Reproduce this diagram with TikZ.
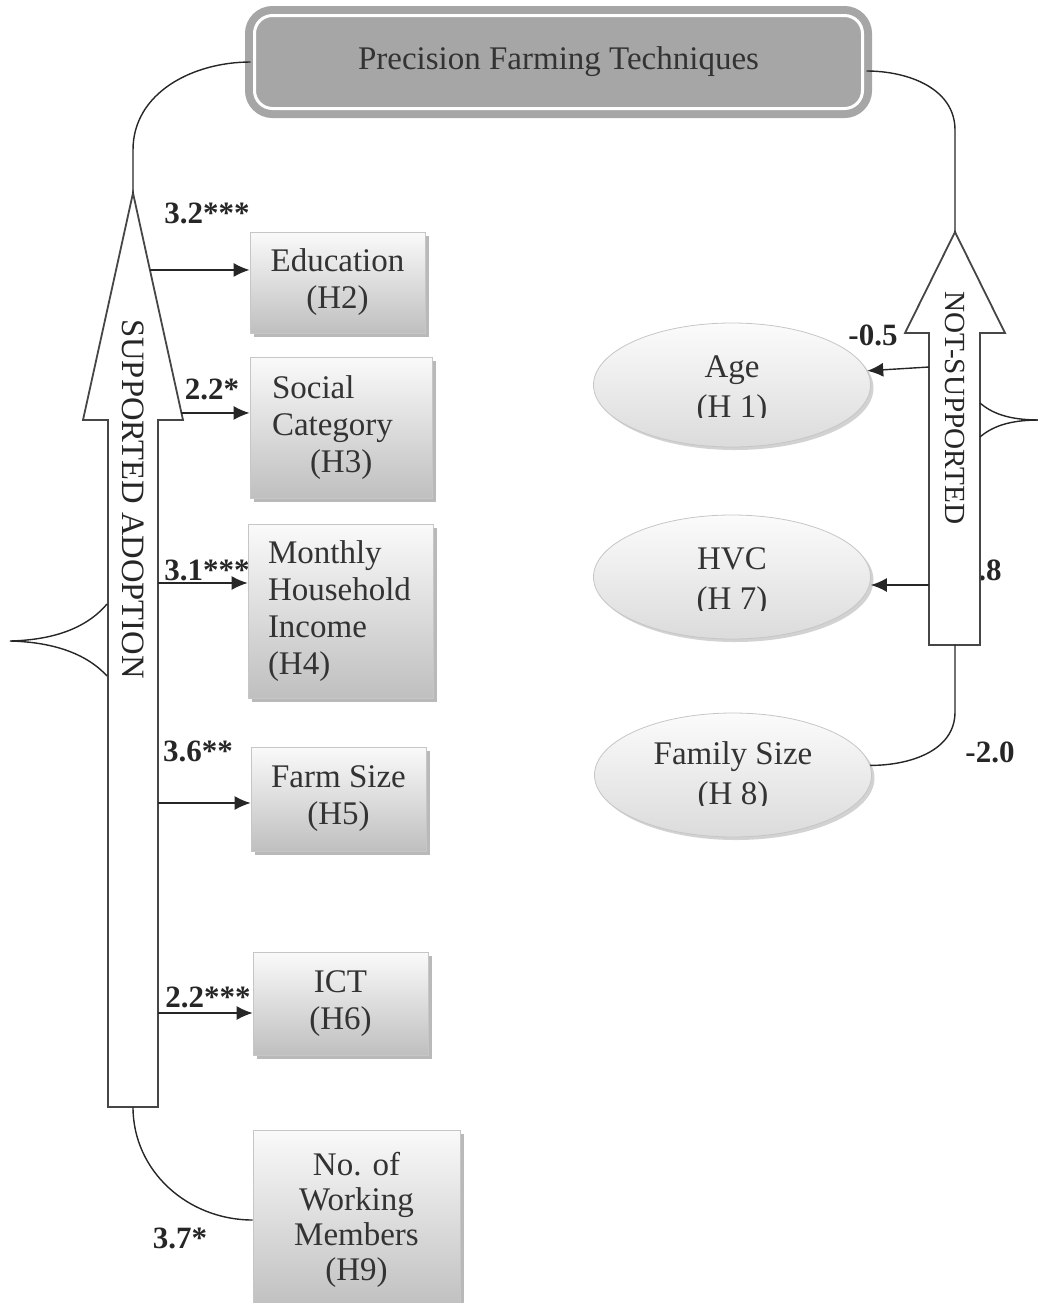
\documentclass[tikz,border=0pt]{standalone}
\usepackage{fontspec}
\setmainfont{Liberation Serif}
\usetikzlibrary{arrows.meta,shapes.geometric,shadows,calc}

\definecolor{pftgray}{RGB}{166,166,166}
\definecolor{linegray}{RGB}{70,70,70}

\tikzset{
  factor/.style={draw=gray!45, top color=gray!4, bottom color=gray!50,
    drop shadow={shadow xshift=2pt,shadow yshift=-2pt,fill=gray!55,opacity=1},
    inner sep=0pt, align=center, text=black!80, font=\fontsize{16.5}{18.5}\selectfont},
  hypo/.style={ellipse, draw=gray!45, top color=gray!3, bottom color=gray!28,
    drop shadow={shadow xshift=1.5pt,shadow yshift=-1.5pt,fill=gray!35,opacity=1},
    minimum width=138.5pt, minimum height=62pt, inner sep=0pt},
  hypotext/.style={align=center, text=black!80, font=\fontsize{16.5}{20}\selectfont},
  coef/.style={font=\bfseries\fontsize{15.5}{17}\selectfont, text=black!85},
  link/.style={-{Latex[length=8pt,width=7pt]}, line width=0.7pt, draw=black!85},
  curveline/.style={line width=0.7pt, draw=black!85},
  bigarrow/.style={draw=linegray, line width=0.9pt, fill=white}
}

\begin{document}
\begin{tikzpicture}[x=0.5pt,y=-0.5pt]
\useasboundingbox (0,0) rectangle (1038,1303);
\clip (0,0) rectangle (1038,1303);

% coefficients (drawn first, boxes overlap them)
\node[coef] (c2) at (207,213) {3.2***};
\node[coef] (c3) at (212,389) {2.2*};
\node[coef] (c4) at (207,570) {3.1***};
\node[coef] (c5) at (198,751) {3.6**};
\node[coef] (c6) at (208,997) {2.2***};
\node[coef] (c9) at (180,1238) {3.7*};
\node[coef] (c1) at (873,335) {-0.5};
\node[coef] (c7) at (990,570) {.8};
\node[coef] (c8) at (990,752) {-2.0};

% top box
\node[draw=pftgray, line width=4pt, double=white, double distance=1.5pt,
  fill=pftgray, rounded corners=9pt, minimum width=304pt, minimum height=46.5pt,
  text=black!80, font=\fontsize{16.5}{18}\selectfont] (pft) at (558.5,62)
  {\raisebox{-2pt}{Precision Farming Techniques}};

% supported adoption arrow
\coordinate (stip) at (133,193);
\coordinate (sheadR) at (183,420);
\coordinate (sbot) at (133,1107);
\coordinate (lknee) at (133,150);
\draw[bigarrow] (stip) -- (sheadR) -- (158,420) -- (158,1107) -- (108,1107)
  -- (108,420) -- (83,420) -- cycle;
\node[rotate=-90, text=black!85, font=\fontsize{16.3}{18}\selectfont] (sa)
  at (133,499) {SUPPORTED ADOPTION};

% not supported arrow
\coordinate (ntip) at (955,232);
\coordinate (nbot) at (955,645);
\coordinate (rknee) at (955,130);
\coordinate (nknee) at (955,712);
\draw[bigarrow] (ntip) -- (1005,333) -- (980,333) -- (980,645) -- (929,645)
  -- (929,333) -- (905,333) -- cycle;
\node[rotate=-90, text=black!85, font=\fontsize{14.6}{16}\selectfont] (ns)
  at (955,408) {NOT-SUPPORTED};

% braces
\draw[curveline] (107,604) .. controls (85,630) and (50,640) .. (10,641)
  .. controls (50,642) and (85,652) .. (107,676);
\draw[curveline] (980,403) .. controls (995,416) and (1015,420) .. (1040,420);
\draw[curveline] (980,437) .. controls (995,424) and (1015,420) .. (1040,420);

% supported factors
\node[factor, minimum width=87.5pt, minimum height=50.5pt] (edu) at (337.5,282.5)
  {Education\\(H2)};
\node[factor, minimum width=91pt, minimum height=70.5pt, align=left, text width=69pt]
  (soc) at (341,427.5) {Social\\Category\\\hspace*{19pt}(H3)};
\node[factor, minimum width=92.5pt, minimum height=87pt, align=left, text width=72.5pt]
  (inc) at (340.5,611) {Monthly\\Household\\Income\\(H4)};
\node[factor, minimum width=87.5pt, minimum height=52pt] (farm) at (338.5,799)
  {Farm Size\\(H5)};
\node[factor, minimum width=87.5pt, minimum height=51.5pt] (ict) at (340.5,1003.5)
  {ICT\\(H6)};
\node[factor, minimum width=103.5pt, minimum height=90pt,
  font=\fontsize{16.5}{17.5}\selectfont] (work) at (356.5,1220)
  {No. of\\Working\\Members\\(H9)};

% not supported factors, lower line cut off as in the source
\node[hypo] (age) at (732,385) {};
\node[hypo] (hvc) at (732,577) {};
\node[hypo] (fam) at (733,775) {};
\begin{scope}
  \clip (age.north west) rectangle ($(age.east)+(0,32)$);
  \node[hypotext] (agetxt) at ($(age.center)+(0,5)$) {Age\\(H 1)};
\end{scope}
\begin{scope}
  \clip (hvc.north west) rectangle ($(hvc.east)+(0,33)$);
  \node[hypotext] (hvctxt) at ($(hvc.center)+(0,5)$) {HVC\\(H 7)};
\end{scope}
\begin{scope}
  \clip (fam.north west) rectangle ($(fam.east)+(0,30)$);
  \node[hypotext] (famtxt) at ($(fam.center)+(0,2)$) {Family Size\\(H 8)};
\end{scope}

% connectors
\draw[curveline] (pft.west) to[out=180,in=90] (lknee) -- (stip);
\draw[curveline] ([yshift=-4.5pt]pft.east) to[out=0,in=90] (rknee) -- (ntip);

\coordinate (e0) at ($(stip)!0.339!(sheadR)$);
\coordinate (s0) at ($(stip)!0.969!(sheadR)$);
\coordinate (i0) at (158,583);
\coordinate (f0) at (158,803);
\coordinate (t0) at (158,1013);
\draw[link] (e0) -- (e0 -| edu.west);
\draw[link] (s0) -- (s0 -| soc.west);
\draw[link] (i0) -- (i0 -| inc.west);
\draw[link] (f0) -- (f0 -| farm.west);
\draw[link] (t0) -- (t0 -| ict.west);
\draw[curveline] (sbot) to[out=-90,in=180] (work.west);

\coordinate (g0) at (929,367);
\coordinate (h0) at (929,585);
\draw[link] (g0) -- (age.6);
\draw[link] (h0) -- (h0 -| hvc.east);
\draw[curveline] (nbot) -- (nknee) to[out=-90,in=0] (fam.4);
\end{tikzpicture}
\end{document}
